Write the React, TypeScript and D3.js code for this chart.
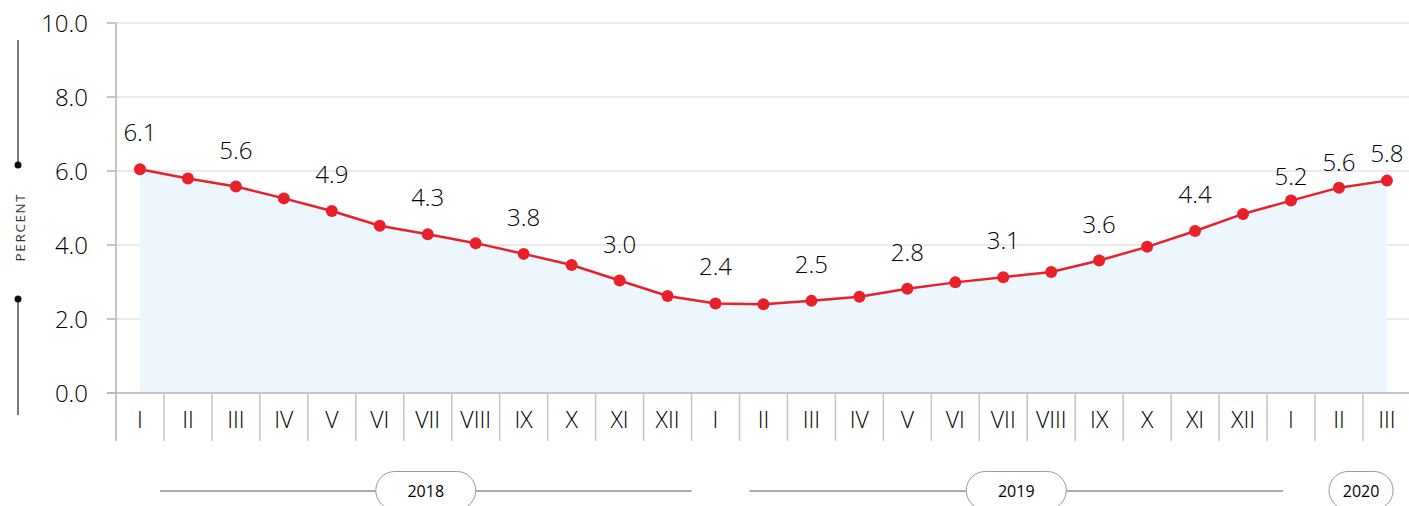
import React from "react";
import * as d3 from "d3";

const months = ["I","II","III","IV","V","VI","VII","VIII","IX","X","XI","XII","I","II","III","IV","V","VI","VII","VIII","IX","X","XI","XII","I","II","III"];
const values = [6.05,5.80,5.58,5.26,4.92,4.52,4.29,4.05,3.76,3.46,3.04,2.62,2.42,2.40,2.49,2.60,2.82,2.99,3.13,3.27,3.58,3.95,4.38,4.84,5.20,5.55,5.74];
const pointLabels = ["6.1","","5.6","","4.9","","4.3","","3.8","","3.0","","2.4","","2.5","","2.8","","3.1","","3.6","","4.4","","5.2","5.6","5.8"];
const yTicks = [0, 2, 4, 6, 8, 10];
const years = ["2018", "2019", "2020"];
const yearStart = [0, 12, 24];
const yearEnd = [11, 23, 26];

const W = 1409, H = 506;
const FONT = "'Open Sans', 'Noto Sans', sans-serif";

export default function App() {
  const bandW = 47.96;
  const x = d3.scaleBand<number>().domain(months.map((_, i) => i)).range([116, 116 + bandW * months.length]).padding(0);
  const cx = (i: number) => (x(i) as number) + x.bandwidth() / 2;
  const y = d3.scaleLinear().domain([0, 10]).range([393, 23]);

  const area = d3.area<number>().x((_, i) => cx(i)).y0(y(0)).y1((d) => y(d));
  const line = d3.line<number>().x((_, i) => cx(i)).y((d) => y(d));

  const labelOffset = (i: number) => (i === 24 ? 16 : i === 25 ? 17 : i === 26 ? 19 : 28);

  const yearLayout = years.map((yr, k) => {
    const s = x(yearStart[k]) as number;
    const e = (x(yearEnd[k]) as number) + x.bandwidth();
    if (k === 0) return { yr, l0: s + 44, l1: e, w: 100 };
    if (k === 1) return { yr, l0: s + 58, l1: e + 16, w: 100 };
    return { yr, l0: s + 62, l1: s + 126, w: 64, noLine: true };
  });

  const axisY = y(0);
  const rowBottom = 441;

  return (
    <svg width={W} height={H} style={{ position: "absolute", left: 0, top: 0, background: "#fff" }} fontFamily={FONT}>
      {yTicks.map((t) => (
        <g key={t}>
          {t !== 0 && <line x1={116} x2={W} y1={y(t)} y2={y(t)} stroke="#e3e3e3" strokeWidth={1.5} />}
          <line x1={107} x2={116} y1={y(t)} y2={y(t)} stroke="#b5b5b5" strokeWidth={1.5} />
          <text x={88} y={y(t)} dy="0.36em" textAnchor="end" fontSize={24} fontWeight={300} fill="#000">
            {t.toFixed(1)}
          </text>
        </g>
      ))}

      <path d={area(values) || ""} fill="#eef6fd" />

      <line x1={107} x2={W} y1={axisY} y2={axisY} stroke="#b5b5b5" strokeWidth={1.5} />
      <line x1={116} x2={116} y1={y(10)} y2={rowBottom} stroke="#b5b5b5" strokeWidth={1.5} />

      {months.map((m, i) => (
        <g key={i}>
          <line x1={(x(i) as number) + x.bandwidth()} x2={(x(i) as number) + x.bandwidth()} y1={axisY} y2={rowBottom} stroke="#c4c4c4" strokeWidth={1.5} />
          <text x={cx(i)} y={428} textAnchor="middle" fontSize={23} fontWeight={300} fill="#000">
            {m}
          </text>
        </g>
      ))}

      <path d={line(values) || ""} fill="none" stroke="#e8202a" strokeWidth={2.5} />
      {values.map((v, i) => (
        <circle key={i} cx={cx(i)} cy={y(v)} r={6} fill="#e8202a" />
      ))}
      {values.map((v, i) =>
        pointLabels[i] ? (
          <text key={"l" + i} x={cx(i)} y={y(v) - labelOffset(i)} textAnchor="middle" fontSize={24} fontWeight={300} fill="#000">
            {pointLabels[i]}
          </text>
        ) : null
      )}

      <line x1={18} x2={18} y1={40} y2={165} stroke="#222" strokeWidth={1.2} />
      <circle cx={18} cy={165} r={3.5} fill="#111" />
      <line x1={18} x2={18} y1={299} y2={415} stroke="#222" strokeWidth={1.2} />
      <circle cx={18} cy={299} r={3.5} fill="#111" />
      <text transform="translate(25,227) rotate(-90)" textAnchor="middle" fontSize={13.5} letterSpacing={1.6} fill="#333">
        PERCENT
      </text>

      {yearLayout.map((d) => {
        const c = (d.l0 + d.l1) / 2;
        const px0 = c - d.w / 2;
        const px1 = c + d.w / 2;
        return (
          <g key={d.yr}>
            {!d.noLine && (
              <>
                <line x1={d.l0} x2={px0} y1={491} y2={491} stroke="#555" strokeWidth={1} />
                <line x1={px1} x2={d.l1} y1={491} y2={491} stroke="#555" strokeWidth={1} />
              </>
            )}
            <rect x={px0} y={471.5} width={d.w} height={38} rx={19} ry={19} fill="#fff" stroke="#999" strokeWidth={1} />
            <text x={c} y={497} textAnchor="middle" fontSize={16} fill="#000">
              {d.yr}
            </text>
          </g>
        );
      })}
    </svg>
  );
}
